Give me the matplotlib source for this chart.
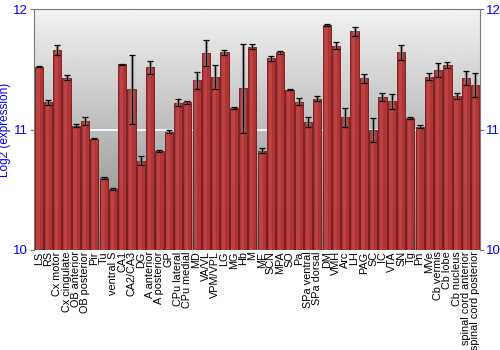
import matplotlib
matplotlib.use("Agg")
import matplotlib.pyplot as plt
import numpy as np

# regions and values
regions = ["LS", "RS", "Cx motor", "Cx cingulate", "OB anterior", "OB posterior",
           "Pir", "Tu", "ventral S", "CA1", "CA2/CA3", "DG", "A anterior",
           "A posterior", "GP", "CPu lateral", "CPu medial", "MD", "VA/VL",
           "VPM/VPL", "LG", "MG", "Hb", "M", "ME", "SCN", "MPA", "SO", "Pa",
           "SPa ventral", "SPa dorsal", "DM", "VMH", "Arc", "LH", "PAG", "SC",
           "IC", "VTA", "SN", "Tg", "Pn", "MVe", "Cb vermis", "Cb lobe",
           "Cb nucleus", "spinal cord anterior", "spinal cord posterior"]
expr = [11.52, 11.225, 11.66, 11.43, 11.03, 11.07, 10.924, 10.60, 10.506,
        11.54, 11.333, 10.741, 11.516, 10.822, 10.982, 11.223, 11.225, 11.41,
        11.635, 11.436, 11.64, 11.18, 11.344, 11.687, 10.824, 11.59, 11.64,
        11.33, 11.231, 11.06, 11.256, 11.867, 11.696, 11.10, 11.815, 11.425,
        10.996, 11.27, 11.234, 11.64, 11.095, 11.024, 11.44, 11.494, 11.535,
        11.28, 11.427, 11.37]
err = [0.005, 0.02, 0.04, 0.02, 0.012, 0.03, 0.005, 0.008, 0.006,
       0.008, 0.285, 0.04, 0.057, 0.005, 0.015, 0.03, 0.015, 0.07,
       0.11, 0.1, 0.02, 0.01, 0.37, 0.02, 0.02, 0.02, 0.015,
       0.005, 0.03, 0.04, 0.02, 0.008, 0.03, 0.08, 0.04, 0.04,
       0.1, 0.03, 0.06, 0.065, 0.008, 0.012, 0.03, 0.06, 0.025,
       0.025, 0.06, 0.1]

plt.rcParams['font.family'] = ['Liberation Sans', 'DejaVu Sans']

fig = plt.figure(figsize=(5, 3.5), dpi=100)
ax = fig.add_axes([0.068, 0.286, 0.892, 0.688])

x = np.arange(len(regions))
n = len(regions)

# gray gradient background
grad = np.linspace(0.95, 0.52, 256).reshape(-1, 1)
ax.imshow(grad, cmap='gray', vmin=0, vmax=1, aspect='auto',
          extent=[-0.5, n - 0.5, 10, 12], origin='upper', zorder=0)
ax.axhline(11, color='white', lw=1.2, zorder=1)

ax.bar(x, [v - 10 for v in expr], bottom=10, width=0.88,
       color='#b03434', edgecolor='#6e1616', linewidth=0.6, zorder=2)
# highlight strip in each bar
ax.bar(x - 0.08, [v - 10 for v in expr], bottom=10, width=0.35,
       color='#d06060', alpha=0.35, linewidth=0, zorder=3)

ax.errorbar(x, expr, yerr=err, fmt='none', ecolor='#888888', elinewidth=2.5,
            capsize=0, alpha=0.6, zorder=4)
ax.errorbar(x, expr, yerr=err, fmt='none', ecolor='black', elinewidth=0.9,
            capsize=2, capthick=0.9, zorder=5)

ax.set_xlim(-0.5, n - 0.5)
ax.set_ylim(10, 12)
ax.set_yticks([10, 11, 12])
ax.tick_params(axis='y', colors='#777777', labelcolor='blue', labelsize=9.5,
               length=3, pad=1.5, right=True, labelright=True)
ax.set_xticks(x)
ax.set_xticklabels(regions, rotation=90, fontsize=7.8)
ax.tick_params(axis='x', length=0, pad=1)
ax.set_ylabel('Log2 (expression)', color='blue', fontsize=8.5, labelpad=1)
for s in ax.spines.values():
    s.set_color('#777777')
ax.spines['bottom'].set_visible(False)

fig.savefig('out.png', dpi=100)
